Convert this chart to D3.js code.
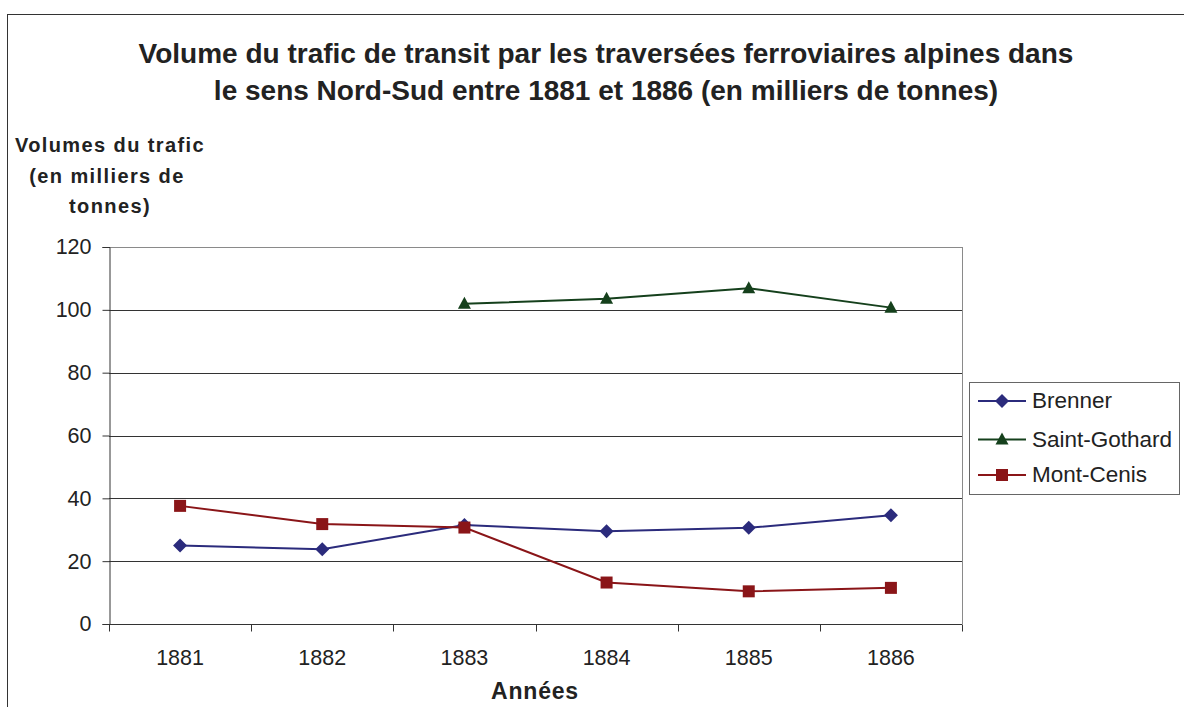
<!DOCTYPE html>
<html>
<head>
<meta charset="utf-8">
<script src="https://cdn.jsdelivr.net/npm/d3@7"></script>
<style>
  body { margin: 0; background: #fff; }
  svg { display: block; font-family: "Liberation Sans", Arial, sans-serif; }
</style>
</head>
<body>
<svg id="chart" width="1184" height="707"></svg>
<script>
// Transit volumes, north-south direction (thousands of tonnes)
const years = ["1881", "1882", "1883", "1884", "1885", "1886"];
const brenner = [25, 23.8, 31.5, 29.5, 30.6, 34.6];
const saintGothard = [null, null, 101.9, 103.5, 106.9, 100.7];
const montCenis = [37.6, 31.8, 30.7, 13.2, 10.4, 11.5];
const yTicks = [0, 20, 40, 60, 80, 100, 120];

const series = [
  { name: "Brenner", values: brenner, color: "#2b2b7c", marker: "diamond" },
  { name: "Saint-Gothard", values: saintGothard, color: "#15401c", marker: "triangle" },
  { name: "Mont-Cenis", values: montCenis, color: "#8a1518", marker: "square" }
];

const svg = d3.select("#chart");
const plot = { left: 109, right: 962, top: 247, bottom: 624 };
const FONT = "'Liberation Sans', Arial, sans-serif";

// chart frame
svg.append("rect").attr("x", 7.5).attr("y", 14.5).attr("width", 1190).attr("height", 720)
  .attr("fill", "none").attr("stroke", "#333").attr("stroke-width", 1);

const x = d3.scaleBand().domain(years).range([plot.left, plot.right]);
const y = d3.scaleLinear().domain([0, 120]).range([plot.bottom, plot.top]);

// gridlines
svg.append("g").selectAll("line").data(yTicks.filter(t => t > 0)).join("line")
  .attr("x1", plot.left).attr("x2", plot.right)
  .attr("y1", d => Math.round(y(d)) + 0.5).attr("y2", d => Math.round(y(d)) + 0.5)
  .attr("stroke", d => d === 120 ? "#8a8a8a" : "#333").attr("stroke-width", 1);

// right border of plot area
svg.append("line").attr("x1", plot.right + 0.5).attr("x2", plot.right + 0.5)
  .attr("y1", plot.top).attr("y2", plot.bottom).attr("stroke", "#8a8a8a");

// y axis
const yAxis = svg.append("g").attr("transform", `translate(${plot.left + 0.5},0)`)
  .call(d3.axisLeft(y).tickValues(yTicks).tickSize(7).tickPadding(11).tickFormat(d3.format("d")));
yAxis.select(".domain").attr("stroke", "#333");
yAxis.selectAll(".tick line").attr("stroke", "#333");
yAxis.selectAll("text").attr("font-size", 21.5).attr("fill", "#222").attr("font-family", FONT);

// x axis with ticks between categories
const xAxisG = svg.append("g").attr("transform", `translate(0,${Math.round(plot.bottom) + 0.5})`);
xAxisG.append("line").attr("x1", plot.left).attr("x2", plot.right).attr("stroke", "#333");
const boundaries = years.map(d => x(d)).concat([x(years[years.length - 1]) + x.bandwidth()]);
xAxisG.selectAll(".tk").data(boundaries).join("line").attr("class", "tk")
  .attr("x1", d => Math.round(d) + 0.5).attr("x2", d => Math.round(d) + 0.5)
  .attr("y1", 0).attr("y2", 7).attr("stroke", "#333");
xAxisG.selectAll("text").data(years).join("text")
  .attr("x", d => x(d) + x.bandwidth() / 2).attr("y", 40)
  .attr("text-anchor", "middle").attr("font-size", 21.5).attr("fill", "#222").text(d => d);

// marker shapes
function markerPath(type) {
  if (type === "diamond") return "M0,-7L7,0L0,7L-7,0Z";
  if (type === "triangle") return "M0,-7L6.5,5L-6.5,5Z";
  return "M-6,-6H6V6H-6Z";
}
const cx = d => x(d) + x.bandwidth() / 2;

series.forEach(s => {
  const pts = years.map((yr, i) => ({ yr, v: s.values[i] })).filter(p => p.v != null);
  const line = d3.line().x(p => cx(p.yr)).y(p => y(p.v));
  svg.append("path").datum(pts).attr("d", line)
    .attr("fill", "none").attr("stroke", s.color).attr("stroke-width", 2);
  svg.append("g").selectAll("path").data(pts).join("path")
    .attr("transform", p => `translate(${cx(p.yr)},${y(p.v)})`)
    .attr("d", markerPath(s.marker))
    .attr("fill", s.color);
});

// legend
const lg = svg.append("g");
lg.append("rect").attr("x", 969.5).attr("y", 382.5).attr("width", 210).attr("height", 112)
  .attr("fill", "#fff").attr("stroke", "#666");
const legendBase = [408, 446.5, 482];
series.forEach((s, i) => {
  const ly = legendBase[i] - 7;
  lg.append("line").attr("x1", 978).attr("x2", 1026).attr("y1", ly).attr("y2", ly)
    .attr("stroke", s.color).attr("stroke-width", 2);
  lg.append("path").attr("transform", `translate(1002,${ly})`)
    .attr("d", markerPath(s.marker))
    .attr("fill", s.color);
  lg.append("text").attr("x", 1032).attr("y", legendBase[i]).attr("font-size", 22.5).attr("fill", "#222")
    .text(s.name);
});

// titles
const title = svg.append("text").attr("text-anchor", "middle").attr("font-size", 28)
  .attr("font-weight", "bold").attr("fill", "#222");
title.append("tspan").attr("x", 606).attr("y", 63)
  .text("Volume du trafic de transit par les traversées ferroviaires alpines dans");
title.append("tspan").attr("x", 606).attr("y", 100)
  .text("le sens Nord-Sud entre 1881 et 1886 (en milliers de tonnes)");

const yt = svg.append("text").attr("text-anchor", "middle").attr("font-size", 20)
  .attr("letter-spacing", 1.4).attr("font-weight", "bold").attr("fill", "#222");
[["Volumes du trafic", 110], ["(en milliers de", 107], ["tonnes)", 110]].forEach(([t, xx], i) => {
  yt.append("tspan").attr("x", xx).attr("y", 152 + i * 30.5).text(t);
});

svg.append("text").attr("x", 535).attr("y", 699).attr("text-anchor", "middle")
  .attr("font-size", 23).attr("letter-spacing", 0.8).attr("font-weight", "bold")
  .attr("fill", "#222").text("Années");
</script>
</body>
</html>
